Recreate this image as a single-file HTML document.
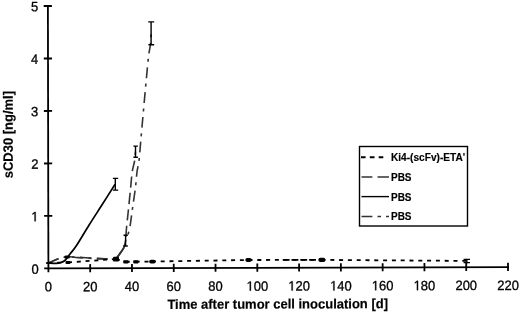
<!DOCTYPE html>
<html><head><meta charset="utf-8"><style>
html,body{margin:0;padding:0;background:#fff;width:520px;height:313px;overflow:hidden}
svg{display:block;filter:grayscale(1)}
text{font-family:"Liberation Sans",sans-serif;fill:#000}
.t{font-size:13px;stroke:#000;stroke-width:0.3px}
.b{font-size:13px;font-weight:bold;stroke:#000;stroke-width:0.18px}
.l{font-size:10px;font-weight:bold;stroke:#000;stroke-width:0.15px}
</style></head><body>
<svg width="520" height="313" viewBox="0 0 520 313">

<g transform="matrix(1,-0.00305,0.0019,1,-0.510055,0.14762)">
<g stroke="#000" stroke-width="1.8" fill="none">
<line x1="48.4" y1="5.1" x2="48.4" y2="269.35"/>
<path d="M44.2 215.96H52.4M44.2 163.47H52.4M44.2 110.98H52.4M44.2 58.49H52.4M44.2 6H52.4"/>
<line x1="44.2" y1="268.45" x2="508.9" y2="268.45"/>
<path d="M48.4 268.45V272.35M90.1818 264.25V272.35M131.964 264.25V272.35M173.745 264.25V272.35M215.527 264.25V272.35M257.309 264.25V272.35M299.091 264.25V272.35M340.873 264.25V272.35M382.655 264.25V272.35M424.436 264.25V272.35M466.218 264.25V272.35M508 264.25V272.35"/>
</g>
<text class="t" transform="translate(31.37,273.75) scale(1,1.04)">0</text>
<path d="M515 0V1237L197 1010V1180L530 1409H696V0Z" fill="#000" stroke="#000" stroke-width="47.2615" transform="translate(31.37,221.26) scale(0.00634766,-0.00660156)"/>
<text class="t" transform="translate(31.37,168.77) scale(1,1.04)">2</text>
<text class="t" transform="translate(31.37,116.28) scale(1,1.04)">3</text>
<text class="t" transform="translate(31.37,63.79) scale(1,1.04)">4</text>
<text class="t" transform="translate(31.37,11.30) scale(1,1.04)">5</text>
<text class="t" transform="translate(44.79,291.30) scale(1,1.04)">0</text>
<text class="t" transform="translate(82.95,291.30) scale(1,1.04)">2</text>
<text class="t" transform="translate(90.18,291.30) scale(1,1.04)">0</text>
<text class="t" transform="translate(124.73,291.30) scale(1,1.04)">4</text>
<text class="t" transform="translate(131.96,291.30) scale(1,1.04)">0</text>
<text class="t" transform="translate(166.52,291.30) scale(1,1.04)">6</text>
<text class="t" transform="translate(173.75,291.30) scale(1,1.04)">0</text>
<text class="t" transform="translate(208.30,291.30) scale(1,1.04)">8</text>
<text class="t" transform="translate(215.53,291.30) scale(1,1.04)">0</text>
<path d="M515 0V1237L197 1010V1180L530 1409H696V0Z" fill="#000" stroke="#000" stroke-width="47.2615" transform="translate(246.46,291.30) scale(0.00634766,-0.00660156)"/>
<text class="t" transform="translate(253.69,291.30) scale(1,1.04)">0</text>
<text class="t" transform="translate(260.92,291.30) scale(1,1.04)">0</text>
<path d="M515 0V1237L197 1010V1180L530 1409H696V0Z" fill="#000" stroke="#000" stroke-width="47.2615" transform="translate(288.25,291.30) scale(0.00634766,-0.00660156)"/>
<text class="t" transform="translate(295.48,291.30) scale(1,1.04)">2</text>
<text class="t" transform="translate(302.71,291.30) scale(1,1.04)">0</text>
<path d="M515 0V1237L197 1010V1180L530 1409H696V0Z" fill="#000" stroke="#000" stroke-width="47.2615" transform="translate(330.03,291.30) scale(0.00634766,-0.00660156)"/>
<text class="t" transform="translate(337.26,291.30) scale(1,1.04)">4</text>
<text class="t" transform="translate(344.49,291.30) scale(1,1.04)">0</text>
<path d="M515 0V1237L197 1010V1180L530 1409H696V0Z" fill="#000" stroke="#000" stroke-width="47.2615" transform="translate(371.81,291.30) scale(0.00634766,-0.00660156)"/>
<text class="t" transform="translate(379.04,291.30) scale(1,1.04)">6</text>
<text class="t" transform="translate(386.27,291.30) scale(1,1.04)">0</text>
<path d="M515 0V1237L197 1010V1180L530 1409H696V0Z" fill="#000" stroke="#000" stroke-width="47.2615" transform="translate(413.59,291.30) scale(0.00634766,-0.00660156)"/>
<text class="t" transform="translate(420.82,291.30) scale(1,1.04)">8</text>
<text class="t" transform="translate(428.05,291.30) scale(1,1.04)">0</text>
<text class="t" transform="translate(455.37,291.30) scale(1,1.04)">2</text>
<text class="t" transform="translate(462.60,291.30) scale(1,1.04)">0</text>
<text class="t" transform="translate(469.83,291.30) scale(1,1.04)">0</text>
<text class="t" transform="translate(497.16,291.30) scale(1,1.04)">2</text>
<text class="t" transform="translate(504.39,291.30) scale(1,1.04)">2</text>
<text class="t" transform="translate(511.61,291.30) scale(1,1.04)">0</text>
<text class="b" text-anchor="middle" transform="translate(277.60,309.30) scale(1,1.04)">Time after tumor cell inoculation [d]</text>
<text class="b" text-anchor="middle" transform="translate(13.00,134.50) rotate(-90) scale(1,1.04)">sCD30 [ng/ml]</text>
</g>
<rect x="359.5" y="146.5" width="108" height="79.5" fill="none" stroke="#000" stroke-width="1.4"/>
<g fill="none">
<path d="M361 157.2H365.6M369.8 157.2H374.5M378.7 157.2H383.3" stroke="#000" stroke-width="2"/>
<path d="M361.5 177H372.4M377.5 177H389" stroke="#333" stroke-width="1.6"/>
<path d="M361.5 196.6H389" stroke="#000" stroke-width="1.4"/>
<path d="M361.5 216.5H372.4M377.5 216.5H381M386 216.5H389" stroke="#333" stroke-width="1.6"/>
</g>

<text class="l" transform="translate(391,161.4) scale(1.013,1.04)">Ki4-(scFv)-ETA'</text>
<text class="l" transform="translate(391,181.2) scale(1,1.04)">PBS</text>
<text class="l" transform="translate(391,200.9) scale(1,1.04)">PBS</text>
<text class="l" transform="translate(391,220.3) scale(1,1.04)">PBS</text>
<path d="M48.40 263.00 C50.10 262.30 55.47 259.83 58.60 258.80 C61.73 257.77 63.97 257.05 67.20 256.80 C70.43 256.55 73.70 257.07 78.00 257.30 C82.30 257.53 88.50 257.95 93.00 258.20 C97.50 258.45 101.18 258.73 105.00 258.80 C108.82 258.87 113.43 259.43 115.90 258.60 C118.37 257.77 118.52 255.53 119.80 253.80 C121.08 252.07 122.63 250.42 123.60 248.20 C124.57 245.98 125.12 243.87 125.60 240.50" fill="none" stroke="#333" stroke-width="1.6" stroke-dasharray="11 5.4"/>
<path d="M135.50 151.70 C135.35 153.22 135.15 157.42 134.60 160.80 C134.05 164.18 132.87 167.47 132.20 172.00 C131.53 176.53 131.23 181.67 130.60 188.00 C129.97 194.33 129.08 203.33 128.40 210.00 C127.72 216.67 126.97 222.92 126.50 228.00 C126.03 233.08 126.08 237.13 125.60 240.50" fill="none" stroke="#333" stroke-width="1.6" stroke-dasharray="11 5.4" stroke-dashoffset="7.5"/>
<path d="M48.40 263.00 C50.10 262.30 55.47 259.80 58.60 258.80 C61.73 257.80 63.97 257.20 67.20 257.00 C70.43 256.80 73.70 257.37 78.00 257.60 C82.30 257.83 88.50 258.18 93.00 258.40 C97.50 258.62 101.18 258.87 105.00 258.90 C108.82 258.93 113.43 259.45 115.90 258.60 C118.37 257.75 118.52 255.53 119.80 253.80 C121.08 252.07 122.63 250.42 123.60 248.20 C124.57 245.98 124.62 243.70 125.60 240.50" fill="none" stroke="#333" stroke-width="1.6" stroke-dasharray="10.8 5.5 3 5.5"/>
<path d="M151.10 33.30 C151.00 35.08 150.92 40.22 150.50 44.00 C150.08 47.78 149.28 50.28 148.60 56.00 C147.92 61.72 147.30 68.72 146.40 78.30 C145.50 87.88 144.15 102.95 143.20 113.50 C142.25 124.05 141.40 133.72 140.70 141.60 C140.00 149.48 139.62 155.73 139.00 160.80 C138.38 165.87 137.60 167.47 137.00 172.00 C136.40 176.53 136.17 181.83 135.40 188.00 C134.63 194.17 133.38 202.17 132.40 209.00 C131.42 215.83 130.63 223.75 129.50 229.00 C128.37 234.25 126.58 237.30 125.60 240.50" fill="none" stroke="#333" stroke-width="1.6" stroke-dasharray="10.8 5.5 3 5.5" stroke-dashoffset="15.2"/>
<path d="M48.40 263.00 C49.75 263.07 54.37 263.50 56.50 263.40 C58.63 263.30 59.85 262.85 61.20 262.40 C62.55 261.95 63.65 261.42 64.60 260.70 C65.55 259.98 66.00 259.22 66.90 258.10 C67.80 256.98 68.40 256.10 70.00 254.00 C71.60 251.90 73.32 250.33 76.50 245.50 C79.68 240.67 84.87 231.75 89.10 225.00 C93.33 218.25 97.57 211.78 101.90 205.00 C106.23 198.22 112.90 187.75 115.10 184.30" fill="none" stroke="#000" stroke-width="1.7"/>
<path d="M116.5 257.8L119.8 253.8L123.8 247.8" fill="none" stroke="#333" stroke-width="1.7"/>
<g fill="none" stroke="#000" stroke-width="1.8" stroke-dasharray="4 4.8">
<path d="M48.4 262.9L68 262.4"/>
<path d="M68 262.4L115.9 259"/>
<path d="M115.9 259L125.7 261.8"/>
<path d="M125.7 261.8L135.7 261.7"/>
<path d="M135.7 261.7L151.9 261.5"/>
<path d="M151.9 261.5L248.5 260"/>
<path d="M248.5 260L321.5 259.9"/>
<path d="M321.5 259.9L466.8 260.9"/>
</g>
<g fill="#000">
<rect x="46.2" y="262" width="5" height="2" rx="0.5"/>
<rect x="64.6" y="255.5" width="5.2" height="3" rx="1"/>
<rect x="65.5" y="261" width="5" height="3" rx="1"/>
<rect x="113" y="256.8" width="6" height="4.8" rx="1"/>
<rect x="123.2" y="260.3" width="5.4" height="3.1" rx="0.8"/>
<rect x="133.2" y="260.3" width="5.4" height="3.1" rx="0.8"/>
<rect x="149.2" y="259.8" width="6.4" height="3.7" rx="1.8"/>
<rect x="245.3" y="258.1" width="6.4" height="3.8" rx="1.8"/>
<rect x="318.4" y="257.7" width="7" height="4.3" rx="2"/>
<path d="M282.7 259.9H317.5" stroke="#000" stroke-width="1.8" stroke-dasharray="6.9 1.9"/>
</g>
<g stroke="#000" stroke-width="1.4" fill="none">
<path d="M148.2 21.9H154.2M151.1 21.9V44.7M148.4 44.7H154.2"/>
<path d="M133.4 146.1H137.9M135.5 146.1V157.2M133.4 157.2H137.9"/>
<path d="M112.9 178.4H118.2M115.3 178.4V190.1M112.9 190.1H118.2"/>
<path d="M123.5 235.2H127.8M125.6 235.2V246M123.5 246H127.8"/>
<path d="M463.6 259.4H470M463.6 262.6H470M466.8 259.4V263.5"/>
</g>

</svg>
</body></html>
